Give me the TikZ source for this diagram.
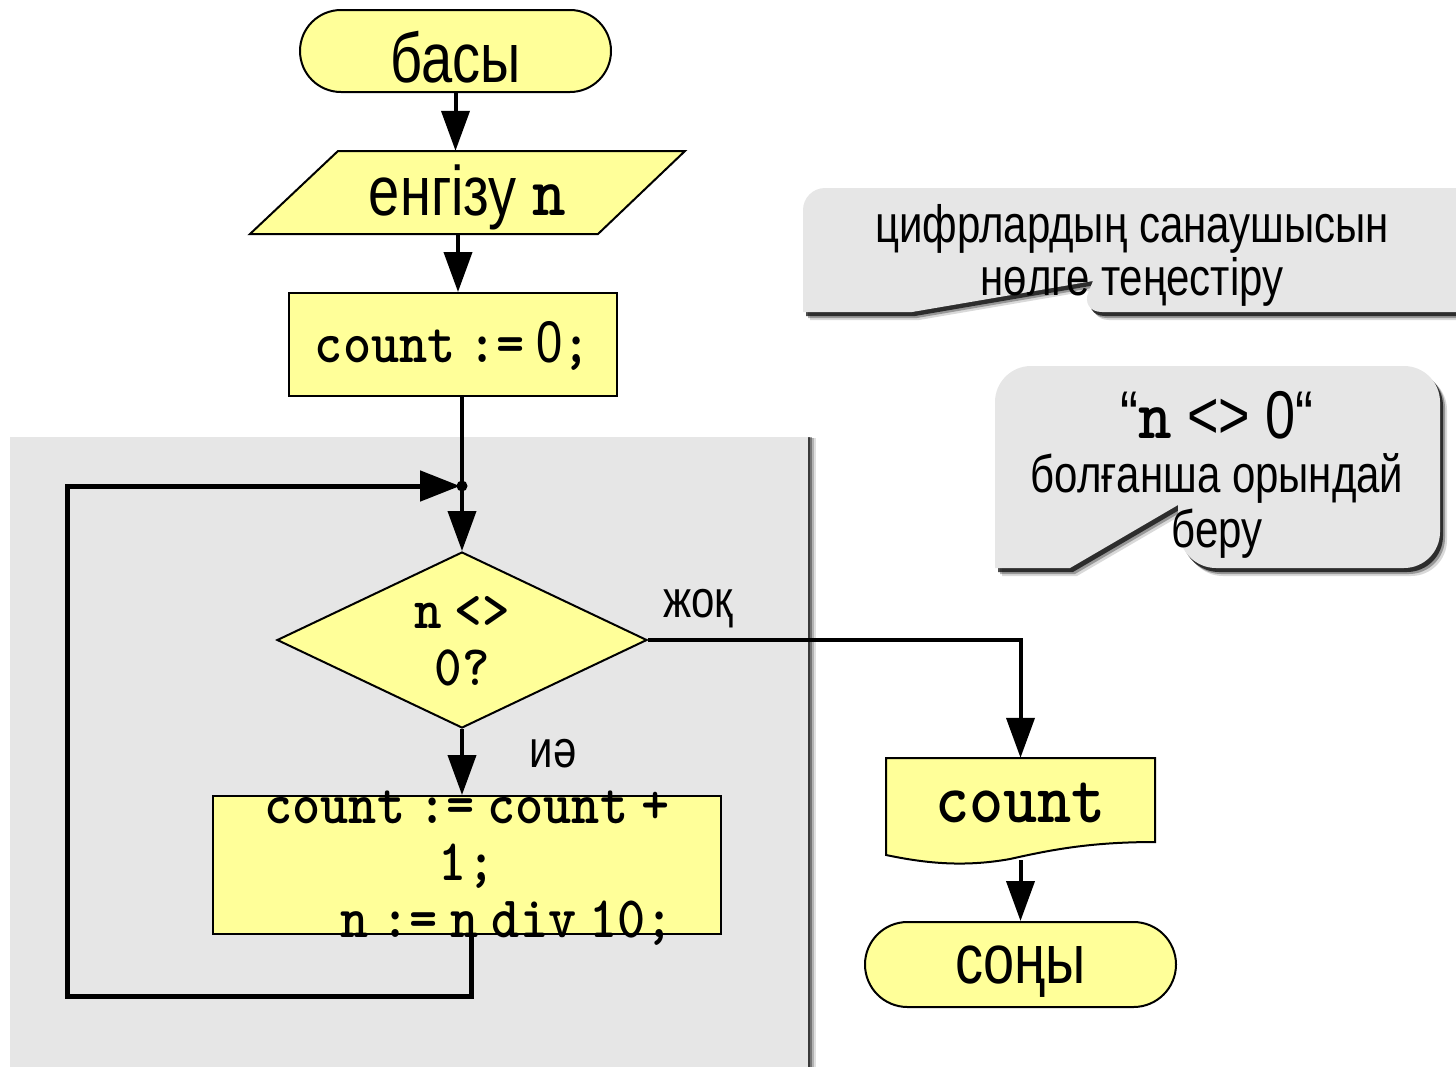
\documentclass[tikz,border=0pt]{standalone}
\usepackage{fontspec}
\usepackage{graphicx}
\setmainfont{Liberation Sans}
\usetikzlibrary{arrows.meta,shapes.geometric,shapes.misc,shadows}
\definecolor{fy}{HTML}{FFFF99}
\definecolor{pg}{HTML}{E6E6E6}
\newcommand\code[2]{{\fontsize{#1}{#1}\selectfont\ttfamily\bfseries\scalebox{1.14}[1]{#2}}}
\newcommand\tx[2]{\smash{\raisebox{#1}{\scalebox{1}[1.25]{\begin{tabular}[t]{@{}c@{}}#2\end{tabular}}}}}
\begin{document}
\begin{tikzpicture}[x=1pt,y=-1pt,
  shp/.style={draw=black,line width=2pt,fill=fy,inner sep=0pt},
  term/.style={shp,rounded rectangle,minimum width=311pt,minimum height=82pt,font=\fontsize{56}{60}\selectfont},
  bare/.style={inner sep=0pt},
  flow/.style={line width=4pt,-{Triangle[length=40pt,width=28pt]}},
  lbl/.style={inner sep=0pt,font=\fontsize{42}{42.4}\selectfont},
  cbox/.style={fill=pg,
    drop shadow={shadow xshift=7pt,shadow yshift=-8pt,opacity=.15,fill=black},
    drop shadow={shadow xshift=5pt,shadow yshift=-6pt,opacity=.3,fill=black},
    drop shadow={shadow xshift=3pt,shadow yshift=-4pt,opacity=.7,fill=black}},
  pnl/.style={fill=pg,
    drop shadow={shadow xshift=8pt,shadow yshift=-1pt,opacity=.12,fill=black},
    drop shadow={shadow xshift=6pt,shadow yshift=-1pt,opacity=.2,fill=black},
    drop shadow={shadow xshift=4pt,shadow yshift=0pt,opacity=.35,fill=black},
    drop shadow={shadow xshift=2pt,shadow yshift=0pt,opacity=.5,fill=black}}
]
\useasboundingbox (0,0) rectangle (1456,1066);

% grey loop panel
\path[pnl] (10,437) rectangle (808,1100);

% callouts
\path[cbox] (803,250) [rounded corners=22pt] -- (803,188) -- (1480,188) -- (1480,312) -- (1080,312)
   [sharp corners] -- (1093,281) -- (912,312) -- (803,312) [rounded corners=22pt] -- cycle;
\path[cbox] (995,470) [rounded corners=36pt] -- (995,366) -- (1440,366) -- (1440,568) -- (1180,568)
   [sharp corners] -- (1178,505) -- (1070,568) -- (995,568) [rounded corners=36pt] -- cycle;

\node[lbl] (t1) at (1132,242) {\tx{0pt}{цифрлардың санаушысын\\нөлге теңестіру}};
\node[lbl] (t2) at (1217,438) {\tx{0pt}{{\fontsize{54}{54}\selectfont “\code{56}{n} <> 0“}\\болғанша орындай\\беру}};

% flowchart shapes
\node[term] (start) at (455.5,51) {\tx{-31pt}{басы}};

\path[shp] (250,234) -- (338,151) -- (685,151) -- (598,234) -- cycle;
\node[bare,minimum width=347pt,minimum height=83pt,font=\fontsize{56}{60}\selectfont] (in) at (467.5,192.5)
  {\tx{-22.5pt}{енгізу \code{56}{n}}};

\node[shp,rectangle,minimum width=328pt,minimum height=103pt,font=\fontsize{47}{47}\selectfont] (init) at (453,344.5)
  {\tx{-17.5pt}{\code{47}{count} \code{47}{:=}\hspace{12pt}0\code{47}{;}}};

\node[shp,diamond,minimum width=370pt,minimum height=176pt,font=\fontsize{46}{45.6}\selectfont] (dec) at (462,640)
  {\tx{12pt}{\code{46}{n} \code{46}{<>}\\\code{46}{0?}}};

\node[shp,rectangle,minimum width=508pt,minimum height=138pt,font=\fontsize{47}{45.6}\selectfont] (body) at (467,865)
  {\tx{42pt}{\code{47}{count} \code{47}{:=} \code{47}{count} \code{47}{+}\\\code{47}{1;}\\\hspace*{80pt}\code{47}{n} \code{47}{:=} \code{47}{n} \code{47}{div} \code{47}{10;}}};

\path[shp] (886,758) -- (1155,758) -- (1155,842) .. controls (1090,842) and (1050,850) .. (1010,859)
   .. controls (960,868) and (920,862) .. (886,855) -- cycle;
\node[bare,minimum width=269pt,minimum height=102pt,font=\fontsize{57}{57}\selectfont] (out) at (1020.5,809)
  {\tx{-13pt}{\code{57}{count}}};

\node[term,minimum height=85pt] (endn) at (1020.5,964.5) {\tx{-18.5pt}{соңы}};

\node[lbl] (no) at (698,617) {\tx{0pt}{жоқ}};
\node[lbl] (yes) at (553,767) {\tx{0pt}{иә}};

% connectors
\coordinate (j) at (462,486);
\coordinate (lp) at (67,996);
\draw[flow] (start.south) -- (start.south |- in.north);
\draw[flow] ([xshift=-9.5pt]in.south) -- ([xshift=-9.5pt]in.south |- init.north);
\draw[line width=4pt] ([xshift=9pt]init.south) -- (j);
\draw[flow] (j) -- (dec.north);
\draw[flow] (dec.east) -| (out.north);
\draw[flow] (dec.south) -- (dec.south |- body.north);
\draw[line width=5pt,-{Triangle[length=40pt,width=30pt]}] ([xshift=4pt]body.south) |- (lp) |- ([xshift=-2pt]j);
\draw[flow] (out.south) -- (endn.north);
\fill (j) circle[radius=5.5pt];
\end{tikzpicture}
\end{document}
